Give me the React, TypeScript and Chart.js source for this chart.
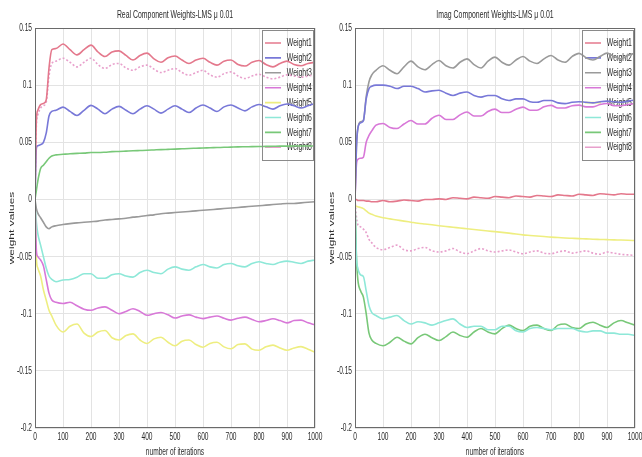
import React, { useEffect, useRef } from 'react';
import { Chart, registerables } from 'chart.js';

Chart.register(...registerables);

// ---------------- data ----------------
const iterations = [0, 5, 10, 20, 30, 40, 50, 60, 75, 100, 125, 150, 175, 200, 225, 250, 275, 300, 325, 350, 375, 400, 425, 450, 475, 500, 525, 550, 575, 600, 625, 650, 675, 700, 725, 750, 775, 800, 825, 850, 875, 900, 925, 950, 975, 1000];

const seriesNames = ['Weight1', 'Weight2', 'Weight3', 'Weight4', 'Weight5', 'Weight6', 'Weight7', 'Weight8'];
const seriesColors = ['#e4788c', '#7878d8', '#9a9a9a', '#d878d8', '#eeee80', '#8ee8d8', '#78c878', '#e8a0cc'];

const xTickValues = [0, 100, 200, 300, 400, 500, 600, 700, 800, 900, 1000];
const xTickLabels = ['0', '100', '200', '300', '400', '500', '600', '700', '800', '900', '1000'];
const yTickValues = [-0.2, -0.15, -0.1, -0.05, 0, 0.05, 0.1, 0.15];
const yTickLabels = ['-0.2', '-0.15', '-0.1', '-0.05', '0', '0.05', '0.1', '0.15'];

// Real component weights
const realW1 = [0, 0.07, 0.078, 0.083, 0.084, 0.087, 0.115, 0.131, 0.132, 0.136, 0.131, 0.1265, 0.131, 0.135, 0.129, 0.125, 0.129, 0.130, 0.126, 0.122, 0.126, 0.128, 0.123, 0.120, 0.124, 0.1255, 0.122, 0.119, 0.122, 0.1235, 0.120, 0.1175, 0.121, 0.122, 0.118, 0.1167, 0.120, 0.1215, 0.118, 0.116, 0.119, 0.121, 0.118, 0.117, 0.119, 0.120];
const realW2 = [0, 0.045, 0.047, 0.048, 0.050, 0.058, 0.073, 0.077, 0.078, 0.0808, 0.077, 0.0735, 0.078, 0.0823, 0.079, 0.075, 0.079, 0.0814, 0.078, 0.075, 0.079, 0.082, 0.079, 0.0755, 0.079, 0.082, 0.079, 0.076, 0.080, 0.0826, 0.080, 0.077, 0.081, 0.0826, 0.080, 0.0775, 0.081, 0.083, 0.081, 0.079, 0.082, 0.0835, 0.082, 0.080, 0.082, 0.084];
const realW3 = [0, -0.008, -0.012, -0.016, -0.020, -0.024, -0.0256, -0.024, -0.023, -0.022, -0.0212, -0.0205, -0.020, -0.0195, -0.019, -0.018, -0.0175, -0.017, -0.0165, -0.0155, -0.015, -0.014, -0.0135, -0.0125, -0.012, -0.0115, -0.011, -0.0105, -0.010, -0.0095, -0.009, -0.0085, -0.008, -0.0075, -0.007, -0.0065, -0.006, -0.0055, -0.005, -0.0045, -0.004, -0.0035, -0.0035, -0.003, -0.0025, -0.002];
const realW4 = [0, -0.045, -0.05, -0.053, -0.058, -0.07, -0.082, -0.088, -0.090, -0.091, -0.090, -0.093, -0.096, -0.097, -0.095, -0.094, -0.097, -0.100, -0.098, -0.0956, -0.098, -0.1014, -0.100, -0.099, -0.101, -0.1038, -0.102, -0.101, -0.103, -0.1043, -0.103, -0.102, -0.104, -0.1056, -0.104, -0.103, -0.105, -0.107, -0.106, -0.1044, -0.106, -0.108, -0.106, -0.1056, -0.108, -0.1097];
const realW5 = [0, -0.052, -0.06, -0.067, -0.079, -0.088, -0.097, -0.102, -0.110, -0.116, -0.111, -0.109, -0.117, -0.120, -0.116, -0.1147, -0.121, -0.123, -0.119, -0.1176, -0.123, -0.126, -0.122, -0.1206, -0.125, -0.128, -0.124, -0.123, -0.127, -0.1293, -0.126, -0.125, -0.129, -0.1307, -0.127, -0.1264, -0.131, -0.132, -0.129, -0.1275, -0.130, -0.132, -0.130, -0.1288, -0.131, -0.1337];
const realW6 = [0, -0.02, -0.03, -0.04, -0.05, -0.06, -0.067, -0.070, -0.072, -0.0705, -0.070, -0.068, -0.065, -0.065, -0.069, -0.069, -0.066, -0.065, -0.067, -0.068, -0.064, -0.062, -0.064, -0.065, -0.061, -0.059, -0.061, -0.062, -0.059, -0.057, -0.059, -0.060, -0.057, -0.056, -0.058, -0.059, -0.056, -0.0545, -0.056, -0.057, -0.055, -0.054, -0.055, -0.056, -0.054, -0.053];
const realW7 = [0, 0.008, 0.016, 0.027, 0.030, 0.033, 0.036, 0.038, 0.039, 0.0395, 0.040, 0.0403, 0.0405, 0.041, 0.041, 0.0413, 0.0418, 0.042, 0.0423, 0.0426, 0.0428, 0.043, 0.0433, 0.0436, 0.0438, 0.044, 0.0443, 0.0446, 0.0448, 0.045, 0.0452, 0.0454, 0.0456, 0.0458, 0.046, 0.0461, 0.0462, 0.0463, 0.0464, 0.0465, 0.0466, 0.0466, 0.0467, 0.0467, 0.0468, 0.0468];
const realW8 = [0, 0.065, 0.074, 0.080, 0.082, 0.085, 0.108, 0.119, 0.121, 0.1235, 0.120, 0.116, 0.120, 0.1235, 0.118, 0.1146, 0.118, 0.119, 0.115, 0.113, 0.116, 0.1175, 0.114, 0.111, 0.113, 0.1146, 0.111, 0.1087, 0.111, 0.113, 0.109, 0.107, 0.110, 0.1116, 0.108, 0.1058, 0.108, 0.1096, 0.107, 0.1055, 0.107, 0.109, 0.108, 0.107, 0.108, 0.109];

// Imaginary component weights
const imagW1 = [0, 0, -0.001, -0.001, -0.001, -0.0015, -0.0015, -0.002, -0.002, -0.001, -0.002, -0.0015, -0.0005, -0.001, -0.0015, 0, 0, 0.0005, 0, 0.0015, 0.001, 0.0005, 0.002, 0.0015, 0.001, 0.0025, 0.002, 0.0015, 0.003, 0.0025, 0.002, 0.0035, 0.003, 0.0025, 0.004, 0.0035, 0.003, 0.0045, 0.004, 0.0035, 0.005, 0.0045, 0.004, 0.005, 0.0045, 0.0045];
const imagW2 = [0, 0.045, 0.062, 0.067, 0.069, 0.088, 0.097, 0.099, 0.100, 0.100, 0.099, 0.097, 0.099, 0.099, 0.097, 0.094, 0.095, 0.0955, 0.093, 0.091, 0.093, 0.094, 0.091, 0.0895, 0.091, 0.091, 0.088, 0.0865, 0.088, 0.088, 0.0855, 0.085, 0.0865, 0.0865, 0.0845, 0.0838, 0.085, 0.0855, 0.085, 0.0845, 0.0855, 0.086, 0.0855, 0.085, 0.086, 0.087];
const imagW3 = [0, 0.045, 0.062, 0.068, 0.069, 0.090, 0.103, 0.109, 0.113, 0.117, 0.113, 0.110, 0.116, 0.121, 0.116, 0.1135, 0.118, 0.1215, 0.117, 0.115, 0.120, 0.123, 0.118, 0.115, 0.121, 0.1245, 0.120, 0.1175, 0.122, 0.125, 0.121, 0.119, 0.123, 0.126, 0.122, 0.120, 0.125, 0.1278, 0.124, 0.122, 0.125, 0.128, 0.125, 0.123, 0.126, 0.128];
const imagW4 = [0, 0.03, 0.035, 0.036, 0.037, 0.050, 0.056, 0.060, 0.065, 0.0665, 0.063, 0.062, 0.066, 0.069, 0.066, 0.066, 0.071, 0.0736, 0.070, 0.070, 0.074, 0.0765, 0.073, 0.073, 0.077, 0.079, 0.076, 0.076, 0.079, 0.0808, 0.078, 0.078, 0.081, 0.0823, 0.080, 0.080, 0.082, 0.0825, 0.081, 0.081, 0.083, 0.084, 0.082, 0.082, 0.083, 0.084];
const imagW5 = [-0.005, -0.006, -0.0065, -0.007, -0.008, -0.010, -0.012, -0.013, -0.0145, -0.016, -0.017, -0.018, -0.019, -0.0199, -0.0208, -0.0215, -0.0222, -0.023, -0.0237, -0.0243, -0.025, -0.0256, -0.0263, -0.027, -0.0276, -0.0282, -0.0288, -0.0295, -0.0303, -0.031, -0.0315, -0.032, -0.0325, -0.033, -0.0333, -0.0337, -0.034, -0.0343, -0.0345, -0.0348, -0.035, -0.0352, -0.0354, -0.0355, -0.0357, -0.036];
const imagW6 = [0, -0.05, -0.06, -0.066, -0.0675, -0.080, -0.093, -0.099, -0.1016, -0.1045, -0.103, -0.1016, -0.106, -0.109, -0.107, -0.108, -0.110, -0.108, -0.106, -0.1045, -0.109, -0.112, -0.111, -0.111, -0.114, -0.114, -0.111, -0.111, -0.115, -0.116, -0.113, -0.112, -0.113, -0.114, -0.113, -0.113, -0.113, -0.115, -0.116, -0.115, -0.115, -0.117, -0.117, -0.118, -0.118, -0.119];
const imagW7 = [0, -0.05, -0.07, -0.08, -0.0855, -0.100, -0.117, -0.123, -0.126, -0.128, -0.125, -0.1206, -0.124, -0.1264, -0.121, -0.118, -0.121, -0.1235, -0.120, -0.116, -0.119, -0.1206, -0.116, -0.113, -0.116, -0.1176, -0.113, -0.110, -0.113, -0.1147, -0.111, -0.110, -0.113, -0.1147, -0.110, -0.109, -0.112, -0.113, -0.109, -0.1075, -0.110, -0.112, -0.108, -0.106, -0.108, -0.110];
const imagW8 = [0, -0.015, -0.022, -0.024, -0.026, -0.029, -0.035, -0.038, -0.042, -0.044, -0.042, -0.040, -0.044, -0.045, -0.043, -0.042, -0.045, -0.046, -0.045, -0.043, -0.046, -0.0475, -0.045, -0.043, -0.045, -0.046, -0.045, -0.0443, -0.046, -0.0475, -0.046, -0.045, -0.047, -0.0475, -0.046, -0.045, -0.047, -0.046, -0.045, -0.047, -0.048, -0.046, -0.047, -0.048, -0.0485, -0.049];

const realSeries = [realW1, realW2, realW3, realW4, realW5, realW6, realW7, realW8];
const imagSeries = [imagW1, imagW2, imagW3, imagW4, imagW5, imagW6, imagW7, imagW8];

const realTitle = 'Real Component Weights-LMS \u03bc 0.01';
const imagTitle = 'Imag Component Weights-LMS \u03bc 0.01';
const xAxisTitle = 'number of iterations';
const yAxisTitle = 'weight values';

// ---------------- chart config ----------------
const FONT = "'Liberation Sans', Arial, Helvetica, sans-serif";
const TEXT = '#2a2a2a';
const TEXT_SQUEEZE = 0.6; // the reference figure's lettering is tall and narrow
const LEG_PAD = 3.4;
const LEG_FONT = 11.5;

// squeeze every text horizontally (in device space) around its anchor point
function condenseText(ctx: any, sx: number) {
  if (ctx.__condensed) return;
  ctx.__condensed = true;
  const orig = ctx.fillText;
  ctx.fillText = function (text: string, x: number, y: number, maxWidth?: number) {
    const m = ctx.getTransform();
    const px = m.a * x + m.c * y + m.e;
    const py = m.b * x + m.d * y + m.f;
    ctx.save();
    const t = new DOMMatrix().translate(px, py).scale(sx, 1).translate(-px, -py).multiply(m);
    ctx.setTransform(t);
    if (maxWidth === undefined || maxWidth === null) orig.call(ctx, text, x, y);
    else orig.call(ctx, text, x, y, maxWidth);
    ctx.restore();
  };
}

const framePlugin = {
  id: 'framePlugin',
  afterLayout(chart: any) {
    const lg = chart.legend;
    if (!lg) return;
    const ca = chart.chartArea;
    const bx = ca.right - 53;
    const by = ca.top + 2;
    lg.left = bx + 3 - LEG_PAD;
    lg.right = bx + 60;
    lg.top = by + 43 - 30 - LEG_PAD - LEG_FONT / 2;
    lg.bottom = by + 170;
    lg.width = lg.right - lg.left;
    lg.height = lg.bottom - lg.top;
  },
  beforeDraw(chart: any) {
    condenseText(chart.ctx, TEXT_SQUEEZE);
  },
  afterDraw(chart: any) {
    const { ctx, chartArea: ca } = chart;
    ctx.save();
    ctx.strokeStyle = '#6a6a6a';
    ctx.lineWidth = 1;
    ctx.strokeRect(Math.round(ca.left) + 0.5, Math.round(ca.top) + 0.5, Math.round(ca.right - ca.left) - 1, Math.round(ca.bottom - ca.top) - 1);
    const bx = ca.right - 53;
    const by = ca.top + 2;
    ctx.strokeStyle = '#8a8a8a';
    ctx.strokeRect(Math.round(bx) + 0.5, Math.round(by) + 0.5, 51, 130);
    ctx.restore();
  },
};

function labelFor(values: number[], labels: string[], v: number) {
  const i = values.findIndex((t) => Math.abs(t - v) < 1e-9);
  return i >= 0 ? labels[i] : '';
}

function makeConfig(title: string, series: number[][], padRight: number): any {
  const datasets = series.map((arr, k) => ({
    label: seriesNames[k],
    data: iterations.map((x, i) => ({ x, y: arr[i] })),
    borderColor: seriesColors[k],
    backgroundColor: seriesColors[k],
    borderWidth: 1.6,
    borderDash: k === 7 ? [2, 2] : [],
    pointRadius: 0,
    fill: false,
    cubicInterpolationMode: 'monotone',
  }));
  return {
    type: 'line',
    data: { datasets },
    plugins: [framePlugin],
    options: {
      responsive: false,
      animation: false,
      devicePixelRatio: 1,
      events: [],
      layout: { padding: { left: 0, right: padRight, top: 0, bottom: 0 } },
      plugins: {
        tooltip: { enabled: false },
        title: {
          display: true,
          text: title,
          fullSize: false,
          color: TEXT,
          font: { family: FONT, size: 11.5, weight: 'normal', lineHeight: 1.2 },
          padding: { top: 8.1, bottom: 6.1 },
        },
        legend: {
          display: true,
          position: 'chartArea',
          align: 'start',
          labels: {
            usePointStyle: true,
            pointStyle: 'line',
            pointStyleWidth: 16,
            color: TEXT,
            padding: LEG_PAD,
            font: { family: FONT, size: LEG_FONT },
          },
        },
      },
      scales: {
        x: {
          type: 'linear',
          min: 0,
          max: 1000,
          afterBuildTicks(s: any) {
            s.ticks = xTickValues.map((v) => ({ value: v }));
          },
          afterFit(s: any) {
            s.height = 29;
            s.paddingLeft = 0;
            s.paddingRight = 0;
          },
          grid: { color: '#e3e3e3', drawTicks: false },
          border: { display: false },
          ticks: {
            padding: 2,
            autoSkip: false,
            maxRotation: 0,
            color: TEXT,
            font: { family: FONT, size: 11 },
            callback: (v: number) => labelFor(xTickValues, xTickLabels, v),
          },
          title: {
            display: true,
            text: xAxisTitle,
            color: TEXT,
            font: { family: FONT, size: 11, lineHeight: 1 },
            padding: { top: 0, bottom: 0 },
          },
        },
        y: {
          type: 'linear',
          min: -0.2,
          max: 0.15,
          afterBuildTicks(s: any) {
            s.ticks = yTickValues.map((v) => ({ value: v }));
          },
          afterFit(s: any) {
            s.width = 35;
            s.paddingTop = 0;
            s.paddingBottom = 0;
          },
          grid: { color: '#e3e3e3', drawTicks: false },
          border: { display: false },
          ticks: {
            padding: 3,
            autoSkip: false,
            color: TEXT,
            font: { family: FONT, size: 11 },
            callback: (v: number) => labelFor(yTickValues, yTickLabels, v),
          },
          title: {
            display: true,
            text: yAxisTitle,
            color: TEXT,
            font: { family: FONT, size: 12, lineHeight: 1 },
            padding: { top: 6.5, bottom: 0 },
          },
        },
      },
    },
  };
}

function Panel({ title, series, width, left, padRight }: { title: string; series: number[][]; width: number; left: number; padRight: number }) {
  const ref = useRef<HTMLCanvasElement | null>(null);
  useEffect(() => {
    if (!ref.current) return;
    const chart = new Chart(ref.current, makeConfig(title, series, padRight));
    return () => chart.destroy();
  }, [title, series, padRight]);
  return (
    <canvas
      ref={ref}
      width={width}
      height={457}
      style={{ position: 'absolute', left, top: 0, width, height: 457 }}
    />
  );
}

export default function App() {
  useEffect(() => {
    document.body.style.margin = '0';
  }, []);
  return (
    <div style={{ position: 'fixed', left: 0, top: 0, width: 642, height: 457, background: '#ffffff', overflow: 'hidden' }}>
      <Panel title={realTitle} series={realSeries} width={330} left={0} padRight={15} />
      <Panel title={imagTitle} series={imagSeries} width={322} left={320} padRight={7} />
    </div>
  );
}
